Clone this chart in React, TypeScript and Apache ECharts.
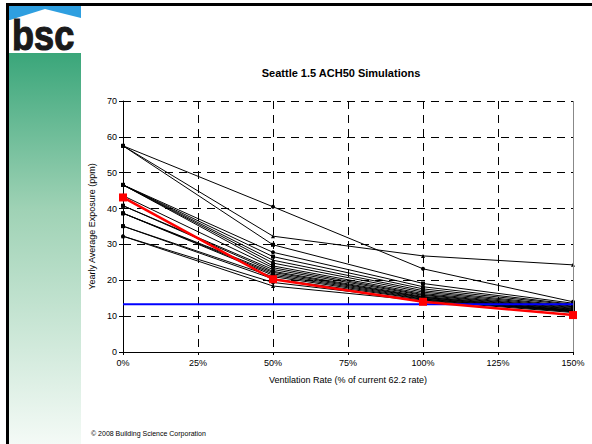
import React, { useEffect, useRef } from "react";
import * as echarts from "echarts";

const xValues = [0, 50, 100, 150];
const xTicks = [0, 25, 50, 75, 100, 125, 150];

const blackSeries: number[][] = [
  [57.5, 40.5, 23.2, 14.0],
  [57.5, 32.3, 26.8, 24.3],
  [57.5, 29.9, 19.1, 13.6],
  [46.6, 27.8, 18.2, 13.3],
  [46.6, 26.6, 17.6, 13.1],
  [46.6, 25.6, 17.1, 12.8],
  [46.6, 24.8, 16.7, 12.6],
  [46.6, 24.0, 16.3, 12.4],
  [43.6, 23.5, 16.0, 12.2],
  [40.8, 23.0, 15.8, 12.0],
  [40.8, 22.5, 15.5, 11.9],
  [38.7, 22.2, 15.3, 11.7],
  [38.7, 21.8, 15.2, 11.6],
  [38.7, 21.4, 15.0, 11.5],
  [35.1, 21.0, 14.8, 11.4],
  [35.1, 20.4, 14.7, 11.3],
  [32.3, 19.4, 14.5, 11.2],
  [32.3, 18.4, 14.3, 11.0],
];
const blackSymbols = [
  "circle", "triangle", "rect", "circle", "rect", "triangle", "circle", "rect", "circle",
  "triangle", "rect", "circle", "rect", "triangle", "circle", "rect", "circle", "triangle",
];
const redSeries = [43.1, 20.3, 14.0, 10.3];
const blueLevel = 13.3;

export default function App() {
  const ref = useRef<HTMLDivElement>(null);
  useEffect(() => {
    if (!ref.current) return;
    const chart = echarts.init(ref.current, null, { renderer: "svg" });
    const font = "Liberation Sans, Arial, sans-serif";
    const series: any[] = blackSeries.map((vals, i) => ({
      type: "line",
      data: vals.map((v, j) => [xValues[j], v]),
      symbol: blackSymbols[i],
      symbolSize: 4,
      itemStyle: { color: "#000" },
      lineStyle: { color: "#000", width: 1 },
      z: 3,
    }));
    series.push({
      type: "line",
      data: [[0, blueLevel], [150, blueLevel]],
      symbol: "none",
      lineStyle: { color: "#0000ff", width: 2 },
      z: 4,
      markLine: {
        silent: true,
        symbol: "none",
        label: { show: false },
        lineStyle: { color: "#888", type: "solid", width: 1 },
        data: [{ xAxis: 150 }],
      },
    });
    series.push({
      type: "line",
      data: redSeries.map((v, j) => [xValues[j], v]),
      symbol: "rect",
      symbolSize: 8,
      itemStyle: { color: "#ff0000" },
      lineStyle: { color: "#ff0000", width: 2.5 },
      z: 5,
    });
    chart.setOption({
      animation: false,
      backgroundColor: "#fff",
      title: {
        text: "Seattle 1.5 ACH50 Simulations",
        left: 336,
        textAlign: "center",
        top: 62,
        textStyle: { fontFamily: font, fontSize: 11, fontWeight: "bold", color: "#000" },
      },
      grid: { left: 123, right: 19, top: 101, bottom: 92 },
      xAxis: {
        type: "value",
        min: 0,
        max: 150,
        interval: 25,
        name: "Ventilation Rate (% of current 62.2 rate)",
        nameLocation: "middle",
        nameGap: 23,
        nameTextStyle: { fontFamily: font, fontSize: 9, color: "#000" },
        axisLine: { show: true, lineStyle: { color: "#000", width: 1 } },
        axisTick: { show: true, length: 3, lineStyle: { color: "#000" } },
        axisLabel: {
          fontFamily: font,
          fontSize: 9,
          color: "#000",
          margin: 6,
          formatter: (v: number) => (xTicks.includes(v) ? v + "%" : ""),
        },
        splitLine: { show: true, lineStyle: { color: "#000", type: [8, 6], width: 1 } },
      },
      yAxis: {
        type: "value",
        min: 0,
        max: 70,
        interval: 10,
        name: "Yearly Average Exposure (ppm)",
        nameLocation: "middle",
        nameGap: 22,
        nameTextStyle: { fontFamily: font, fontSize: 9, color: "#000" },
        axisLine: { show: true, lineStyle: { color: "#000", width: 1 } },
        axisTick: { show: true, length: 4, lineStyle: { color: "#000" } },
        axisLabel: { fontFamily: font, fontSize: 9, color: "#000", margin: 6 },
        splitLine: { show: true, lineStyle: { color: "#000", type: [8, 6], width: 1 } },
      },
      graphic: [
        {
          type: "rect",
          shape: { x: 7, y: 53, width: 74, height: 391 },
          style: {
            fill: new echarts.graphic.LinearGradient(0, 0, 0, 1, [
              { offset: 0, color: "#3aa67a" },
              { offset: 0.4, color: "#9fd2b5" },
              { offset: 1, color: "#f4faf6" },
            ]),
          },
          z: 0,
        },
        {
          type: "rect",
          shape: { x: 7, y: 5, width: 74, height: 48 },
          style: { fill: "#fff" },
          z: 1,
        },
        {
          type: "polygon",
          shape: { points: [[7, 5], [81, 5], [81, 18], [45, 9], [10, 20], [7, 20]] },
          style: { fill: "#2e9fe0" },
          z: 1,
        },
        {
          type: "text",
          x: 12,
          y: 13,
          scaleX: 0.84,
          style: {
            text: "bsc",
            fontFamily: font,
            fontSize: 43,
            fontWeight: "bold",
            fill: "#1a1a1a",
            stroke: "#1a1a1a",
            lineWidth: 1.2,
            textVerticalAlign: "top",
          },
          z: 2,
        },
        {
          type: "rect",
          shape: { x: 6, y: 3, width: 586, height: 3 },
          style: { fill: "#000" },
          z: 3,
        },
        {
          type: "rect",
          shape: { x: 6, y: 3, width: 3, height: 441 },
          style: { fill: "#000" },
          z: 3,
        },
        {
          type: "text",
          x: 91,
          y: 433,
          style: {
            text: "\u00a9 2008 Building Science Corporation",
            fontFamily: font,
            fontSize: 7,
            fill: "#000",
            textVerticalAlign: "middle",
          },
          z: 3,
        },
      ],
      series,
    });
    return () => chart.dispose();
  }, []);
  return (
    <div
      ref={ref}
      style={{ position: "fixed", left: 0, top: 0, width: 592, height: 444 }}
    />
  );
}
